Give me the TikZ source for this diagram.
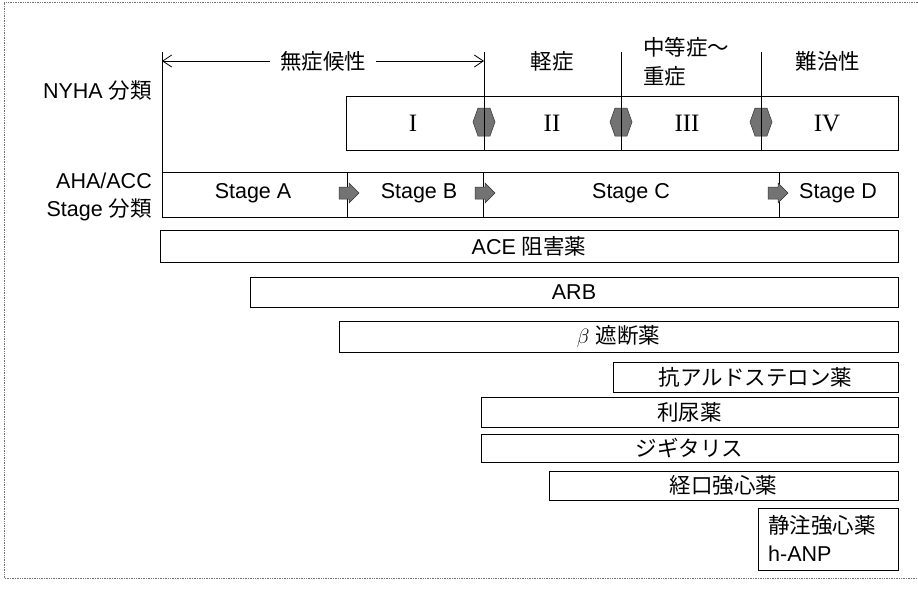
\documentclass[tikz,border=0pt]{standalone}
\usepackage{fontspec}
\setmainfont{Liberation Sans}
\newfontfamily\jp{Noto Sans CJK JP}
\newfontfamily\romanfont{Liberation Serif}
\usetikzlibrary{arrows.meta}
\tikzset{
  box/.style={draw, line width=1pt, inner sep=0pt},
  bar/.style={draw, line width=1pt, inner sep=0pt, font=\fontsize{21.5}{24}\selectfont},
  lbl/.style={inner sep=0pt, font=\fontsize{21.5}{24}\selectfont},
  rom/.style={inner sep=0pt, font=\romanfont\fontsize{25}{28}\selectfont},
  vline/.style={line width=1pt},
  dblarrow/.style={fill=black!55, draw=black!80, line width=0.5pt},
  blkarrow/.style={fill=black!55, draw=black!80, line width=0.5pt},
  frame/.style={draw=black!55, line width=0.7pt, densely dotted},
  barb/.style={line width=0.8pt}
}
\begin{document}
\begin{tikzpicture}[x=1pt,y=-1pt]
\useasboundingbox (0,0) rectangle (918,595);
% scan frame
\draw[frame] (918,2) -- (4,2) -- (4,578) -- (918,578);

% left labels
\node[lbl, anchor=east] (nyhalbl) at (152,90) {NYHA {\jp 分類}};
\node[lbl, anchor=east] (ahalbl) at (152,181) {AHA/ACC};
\node[lbl, anchor=east] (stglbl) at (152,210) {Stage {\jp 分類}};

% top category labels
\node[lbl] (asym) at (323,61) {\jp 無症候性};
\node[lbl] (mild) at (552,61) {\jp 軽症};
\node[lbl, anchor=west] (mod1) at (643,47) {\jp 中等症～};
\node[lbl, anchor=west] (mod2) at (643,76) {\jp 重症};
\node[lbl] (refr) at (828,61) {\jp 難治性};

% boxes
\node[box, anchor=north west, minimum width=552pt, minimum height=54pt] (nyha) at (346,96) {};
\node[box, anchor=north west, minimum width=736pt, minimum height=45pt] (stage) at (162,172) {};

% vertical divider lines
\coordinate (t0) at (162,52);
\coordinate (t1) at (484,52);
\coordinate (t2) at (621,52);
\coordinate (t3) at (761,52);
\draw[vline] (t0) -- (stage.north west);
\draw[vline] (t1) -- (484,150);
\draw[vline] (t2) -- (621,150);
\draw[vline] (t3) -- (761,150);
\draw[vline] (347,172) -- (347,217);
\draw[vline] (483,172) -- (483,217);
\draw[vline] (779,172) -- (779,217);

% asymptomatic arrow
\coordinate (aL) at (162,61);
\coordinate (aR) at (484,61);
\draw[barb, {Straight Barb[length=9pt,width=12pt]}-] (aL) -- ([xshift=-10pt]asym.west);
\draw[barb, -{Straight Barb[length=9pt,width=12pt]}] ([xshift=10pt]asym.east) -- (aR);

% NYHA numerals
\node[rom] (n1) at (413,123) {I};
\node[rom] (n2) at (552,123) {II};
\node[rom] (n3) at (687,123) {III};
\node[rom] (n4) at (827,123) {IV};

% double arrows on NYHA dividers
\foreach \cx in {484,621,761}{
  \filldraw[dblarrow, shift={(\cx,122)}] (-11,0) -- (-6,-14) -- (6,-14) -- (11,0) -- (6,14) -- (-6,14) -- cycle;
  \draw[line width=0.8pt] (\cx,108) -- (\cx,137);
}

% stage arrows
\foreach \cx in {349,485,778}{
  \filldraw[blkarrow, shift={(\cx,193)}] (-10,-6) -- (0,-6) -- (0,-10) -- (10,0) -- (0,10) -- (0,6) -- (-10,6) -- cycle;
}

% stage labels
\node[lbl] (sa) at (253,193) {Stage A};
\node[lbl] (sb) at (419,193) {Stage B};
\node[lbl] (sc) at (631,193) {Stage C};
\node[lbl] (sd) at (838,193) {Stage D};

% drug bars
\node[bar, minimum width=738pt, minimum height=32pt] (ace) at (529,246) {ACE {\jp 阻害薬}};
\node[bar, minimum width=648pt, minimum height=30pt] (arb) at (574,292) {ARB};
\node[bar, minimum width=559pt, minimum height=31pt] (beta) at (618.5,336.5) {$\beta$ {\jp 遮断薬}};
\node[bar, minimum width=285pt, minimum height=30pt] (ald) at (755.5,377) {\jp 抗アルドステロン薬};
\node[bar, minimum width=417pt, minimum height=30pt] (diu) at (689.5,412) {\jp 利尿薬};
\node[bar, minimum width=417pt, minimum height=28pt] (dig) at (689.5,448) {\jp ジギタリス};
\node[bar, minimum width=349pt, minimum height=29pt] (oral) at (723.5,485.5) {\jp 経口強心薬};
\node[bar, anchor=north west, minimum width=140pt, minimum height=62pt] (iv) at (758,508) {};
\node[lbl, anchor=west] (iv1) at (768,525) {\jp 静注強心薬};
\node[lbl, anchor=west] (iv2) at (768,554) {h-ANP};
\end{tikzpicture}
\end{document}
